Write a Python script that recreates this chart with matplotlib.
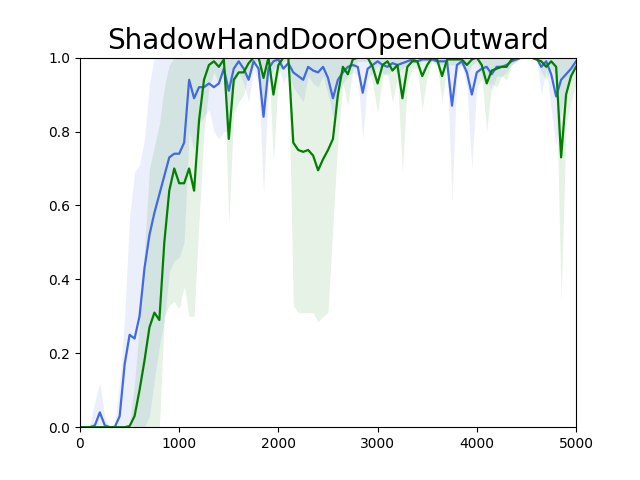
import numpy as np
import matplotlib
matplotlib.use("Agg")
import matplotlib.pyplot as plt

steps = np.arange(0, 5001, 50)

blue_mean = [
    0, 0, 0, 0.005, 0.04, 0.005, 0, 0, 0.03, 0.17,            # 0-450
    0.25, 0.24, 0.30, 0.43, 0.52, 0.58, 0.63, 0.68, 0.73, 0.74,  # 500-950
    0.74, 0.77, 0.94, 0.89, 0.92, 0.92, 0.93, 0.92, 0.93, 0.97,  # 1000-1450
    0.91, 0.97, 0.99, 0.97, 0.94, 0.99, 0.97, 0.84, 0.97, 0.99,  # 1500-1950
    0.995, 0.97, 0.985, 0.96, 0.95, 0.94, 0.975, 0.965, 0.96, 0.975,  # 2000-2450
    0.945, 0.89, 0.94, 0.96, 0.975, 0.98, 0.975, 0.905, 0.97, 0.98,  # 2500-2950
    0.99, 0.98, 0.975, 0.985, 0.98, 0.985, 0.99, 0.995, 0.99, 0.995,  # 3000-3450
    0.995, 0.995, 0.99, 0.99, 0.99, 0.87, 0.98, 0.99, 0.96, 0.90,  # 3500-3950
    0.96, 0.97, 0.975, 0.955, 0.975, 0.975, 0.98, 0.99, 0.995, 1.0,  # 4000-4450
    1.0, 1.0, 1.0, 0.975, 0.99, 0.955, 0.895, 0.94, 0.955, 0.97,  # 4500-4950
    0.99,                                                       # 5000
]

blue_lower = [
    0, 0, 0, 0, 0, 0, 0, 0, 0, 0,
    0, 0, 0, 0, 0.03, 0.13, 0.22, 0.29, 0.42, 0.45,
    0.46, 0.50, 0.80, 0.75, 0.82, 0.84, 0.86, 0.80, 0.78, 0.80,
    0.80, 0.92, 0.96, 0.93, 0.88, 0.97, 0.93, 0.63, 0.93, 0.97,
    0.98, 0.93, 0.96, 0.92, 0.90, 0.88, 0.95, 0.93, 0.92, 0.95,
    0.90, 0.84, 0.90, 0.93, 0.95, 0.96, 0.95, 0.78, 0.94, 0.96,
    0.98, 0.96, 0.95, 0.97, 0.96, 0.97, 0.98, 0.99, 0.98, 0.99,
    0.99, 0.99, 0.98, 0.98, 0.98, 0.61, 0.96, 0.98, 0.92, 0.70,
    0.92, 0.94, 0.95, 0.91, 0.95, 0.95, 0.96, 0.98, 0.99, 1.0,
    1.0, 1.0, 1.0, 0.90, 0.97, 0.86, 0.76, 0.85, 0.92, 0.94,
    0.98,
]

blue_upper = [
    0, 0, 0.01, 0.07, 0.12, 0.03, 0.0, 0.01, 0.12, 0.30,
    0.57, 0.69, 0.71, 0.78, 0.93,
] + [1.0] * 86

green_mean = [
    0, 0, 0, 0, 0, 0, 0, 0, 0, 0,
    0.003, 0.03, 0.10, 0.18, 0.27, 0.31, 0.29, 0.50, 0.64, 0.70,
    0.66, 0.66, 0.70, 0.64, 0.83, 0.94, 0.98, 0.99, 0.975, 0.995,
    0.78, 0.94, 0.96, 0.96, 0.985, 1.0, 1.0, 0.945, 1.0, 0.90,
    0.98, 1.0, 1.0, 0.77, 0.75, 0.745, 0.75, 0.735, 0.695, 0.725,
    0.75, 0.78, 0.90, 0.975, 0.955, 0.995, 1.0, 1.0, 1.0, 0.975,
    0.93, 0.98, 0.99, 0.965, 0.98, 0.89, 0.975, 0.99, 0.99, 0.95,
    0.98, 1.0, 0.995, 0.95, 0.995, 0.995, 0.995, 0.995, 0.98, 0.995,
    1.0, 0.98, 0.93, 0.965, 0.97, 0.975, 0.975, 0.995, 1.0, 1.0,
    1.0, 1.0, 0.995, 0.99, 0.975, 0.99, 0.975, 0.73, 0.90, 0.95,
    0.975,
]

green_lower = [
    0, 0, 0, 0, 0, 0, 0, 0, 0, 0,
    0, 0, 0, 0, 0, 0, 0, 0.30, 0.33, 0.34,
    0.32, 0.38, 0.30, 0.30, 0.56, 0.80, 0.92, 0.96, 0.93, 0.98,
    0.55, 0.85, 0.88, 0.90, 0.96, 0.99, 0.99, 0.85, 0.99, 0.72,
    0.95, 0.99, 0.99, 0.33, 0.31, 0.31, 0.31, 0.31, 0.285, 0.30,
    0.31, 0.55, 0.78, 0.93, 0.87, 0.97, 0.99, 0.99, 0.99, 0.93,
    0.85, 0.95, 0.96, 0.88, 0.95, 0.69, 0.93, 0.97, 0.97, 0.86,
    0.95, 0.99, 0.98, 0.88, 0.98, 0.98, 0.98, 0.98, 0.95, 0.98,
    0.99, 0.95, 0.80, 0.93, 0.92, 0.95, 0.94, 0.98, 0.99, 1.0,
    1.0, 1.0, 1.0, 0.96, 0.94, 0.97, 0.95, 0.34, 0.82, 0.88,
    0.93,
]

green_upper = [
    0, 0, 0, 0, 0, 0, 0, 0, 0, 0,
    0.01, 0.12, 0.28, 0.48, 0.70, 0.76, 0.82, 0.92, 0.98,
] + [1.0] * 82

fig, ax = plt.subplots(figsize=(6.4, 4.8), dpi=100)

ax.fill_between(steps, blue_lower, blue_upper, color="royalblue", alpha=0.1, linewidth=0)
ax.fill_between(steps, green_lower, green_upper, color="green", alpha=0.1, linewidth=0)
ax.plot(steps, blue_mean, color="royalblue", linewidth=1.6)
ax.plot(steps, green_mean, color="green", linewidth=1.6)

ax.set_xlim(0, 5000)
ax.set_ylim(0, 1.0)
ax.set_title("ShadowHandDoorOpenOutward", fontsize=20)

fig.savefig("out.png", dpi=100)
